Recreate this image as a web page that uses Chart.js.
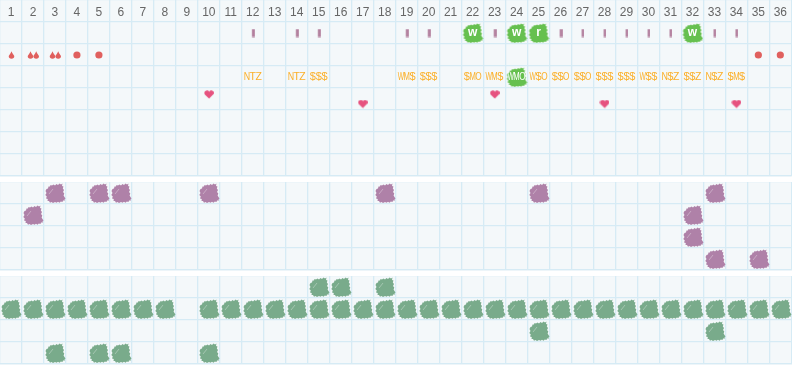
<!DOCTYPE html>
<html>
<head>
<meta charset="utf-8">
<style>
  html, body { margin: 0; padding: 0; background: #fff; overflow: hidden; }
  canvas { position: absolute; left: 0; background: #f4f8fa; }
  #wrap { position: relative; width: 792px; height: 365px; }
</style>
<script src="https://cdn.jsdelivr.net/npm/chart.js@4"></script>
</head>
<body>
<div id="wrap">
  <canvas id="topChart" style="top:0"></canvas>
  <canvas id="midChart" style="top:182px"></canvas>
  <canvas id="lowChart" style="top:276px"></canvas>
</div>
<script>
const days = [];
for (let d = 1; d <= 36; d++) days.push(String(d));

// top block
const barDays = [12, 14, 15, 19, 20, 23, 26, 27, 28, 29, 30, 31, 33, 34];
const wDays = [22, 24, 32];
const rDays = [25];
const dropDays = [1];
const doubleDropDays = [2, 3];
const dotDays = [4, 5, 35, 36];
const codeDays = [12, 14, 15, 19, 20, 22, 23, 24, 25, 26, 27, 28, 29, 30, 31, 32, 33, 34];
const codes = ["NTZ", "NTZ", "$$$", "WM$", "$$$", "$MO", "WM$", "WMO", "W$O", "$$O", "$$O", "$$$", "$$$", "W$$", "N$Z", "$$Z", "N$Z", "$M$"];
const codeHighlightDays = [24];
const heartDays = [10, 17, 23, 28, 34];
const heartLevels = [4.3, 4.73, 4.3, 4.73, 4.73];

// middle block
const purpleRow1 = [3, 5, 6, 10, 18, 25, 33];
const purpleRow2 = [2, 32];
const purpleRow3 = [32];
const purpleRow4 = [33, 35];

// bottom block
const greenRow1 = [15, 16, 18];
const greenRow2 = [1, 2, 3, 4, 5, 6, 7, 8, 10, 11, 12, 13, 14, 15, 16, 17, 18, 19, 20, 21, 22, 23, 24, 25, 26, 27, 28, 29, 30, 31, 32, 33, 34, 35, 36];
const greenRow3 = [25, 33];
const greenRow4 = [3, 5, 6, 10];

const gridColor = "#d6ebf5";
const orange = "#fbb02a";
const fontName = '"Liberation Sans", Arial, sans-serif';

function pts(list, row) {
  return list.map((d) => ({ x: String(d), y: row }));
}

function glyph(w, h, paint) {
  const c = document.createElement("canvas");
  c.width = w;
  c.height = h;
  paint(c.getContext("2d"));
  return c;
}

// the scribbled square behind checked cells
const blobOutline = [
  [2.5, 7], [4, 6.5], [4.5, 4.5], [6, 4.5], [6.5, 3], [8, 3.5], [9.5, 2.5], [11, 3.5], [12.5, 2], [14, 3], [15.5, 1.5],
  [17, 2.5], [18.5, 1.5], [18, 4], [19.5, 4.5], [18.8, 6.5], [20, 8], [19, 10], [20.3, 11.5], [19.6, 13.5], [20.5, 15],
  [21.5, 16.5], [20.5, 17.5], [21, 18.5], [19, 18.5], [18.5, 20], [16.8, 19.5], [15.5, 20.8], [14, 19.8], [12.5, 20.8],
  [11, 20], [9, 21], [7.5, 20], [6, 20.8], [5, 19], [3.5, 19], [3.8, 17], [2, 16.5], [2.8, 14.5], [1.3, 13], [2.5, 11], [1.5, 9]
];

function blob(color, shine) {
  return glyph(22, 22, (ctx) => {
    ctx.fillStyle = color;
    ctx.beginPath();
    blobOutline.forEach((p, i) => (i ? ctx.lineTo(p[0], p[1]) : ctx.moveTo(p[0], p[1])));
    ctx.closePath();
    ctx.fill();
    if (shine) {
      ctx.strokeStyle = "rgba(255,255,255,.4)";
      ctx.lineWidth = 0.8;
      ctx.beginPath();
      ctx.moveTo(5, 12);
      ctx.lineTo(9, 7);
      ctx.stroke();
    }
  });
}

function paintDrop(ctx, x) {
  ctx.fillStyle = "#e0605e";
  ctx.beginPath();
  ctx.moveTo(x, 0.2);
  ctx.quadraticCurveTo(x + 0.6, 2.2, x + 2.8, 4.9);
  ctx.arc(x, 5, 2.8, 0, Math.PI);
  ctx.quadraticCurveTo(x - 0.6, 2.2, x, 0.2);
  ctx.fill();
}

const dropImg = glyph(8, 8, (ctx) => paintDrop(ctx, 4.5));
const doubleDropImg = glyph(14, 8, (ctx) => { paintDrop(ctx, 4.5); paintDrop(ctx, 10.2); });
const barImg = glyph(4, 9, (ctx) => {
  ctx.fillStyle = "#b07a9a";
  ctx.fillRect(1.2, 0.5, 2.6, 8);
});
const heartImg = glyph(10, 9, (ctx) => {
  ctx.fillStyle = "#e6527f";
  ctx.beginPath();
  ctx.moveTo(5.2, 8.6);
  ctx.lineTo(1, 4.6);
  ctx.arc(3, 2.9, 2.5, Math.PI * 0.85, Math.PI * 1.9);
  ctx.arc(7.4, 2.9, 2.5, Math.PI * 1.1, Math.PI * 2.15);
  ctx.closePath();
  ctx.fill();
});
const brightBlob = blob("#66c04f", false);
const purpleBlob = blob("#af81a8", true);
const greenBlob = blob("#79ab8b", true);

// writes the letters of a dataset (dataset.letters) on its points
const letterPlugin = {
  id: "letters",
  afterDatasetsDraw(chart) {
    const ctx = chart.ctx;
    chart.data.datasets.forEach((ds, i) => {
      if (!ds.letters) return;
      const meta = chart.getDatasetMeta(i);
      ctx.save();
      ctx.textAlign = "center";
      ctx.textBaseline = "middle";
      ctx.font = ds.letterFont;
      meta.data.forEach((pt, n) => {
        const word = ds.letters[n];
        const day = Number(ds.data[n].x);
        ctx.fillStyle = ds.letterColor;
        if (ds.highlight && ds.highlight.includes(day)) ctx.fillStyle = "#fff";
        for (let k = 0; k < word.length; k++) {
          const dx = (k - (word.length - 1) / 2) * ds.letterGap;
          ctx.fillText(word[k], pt.x + dx, pt.y, ds.letterWidth);
        }
      });
      ctx.restore();
    });
  },
};

function scatter(list, row, img, extra) {
  return Object.assign({ data: pts(list, row), pointStyle: img, pointRadius: 5, showLine: false }, extra);
}

function makeChart(id, height, rows, datasets, showDays) {
  const canvas = document.getElementById(id);
  canvas.width = 792;
  canvas.height = height;
  canvas.style.width = "792px";
  canvas.style.height = height + "px";
  return new Chart(canvas, {
    type: "scatter",
    data: { labels: days, datasets: datasets },
    plugins: [letterPlugin],
    options: {
      responsive: false,
      animation: false,
      events: [],
      layout: { autoPadding: false, padding: { top: 0, left: 0, right: 0, bottom: 1 } },
      plugins: { legend: { display: false }, tooltip: { enabled: false } },
      scales: {
        x: {
          type: "category",
          position: "top",
          offset: true,
          grid: { offset: true, color: gridColor, lineWidth: 1.3, drawTicks: false },
          border: { display: false },
          afterFit: (scale) => { scale.height = 0; },
          ticks: {
            display: showDays,
            autoSkip: false,
            maxRotation: 0,
            mirror: true,
            padding: 5,
            color: "#666",
            font: { family: fontName, size: 12 },
          },
        },
        y: {
          type: "linear",
          reverse: true,
          min: 0,
          max: rows,
          grid: { color: gridColor, lineWidth: 1.3, drawTicks: false },
          border: { display: false },
          afterFit: (scale) => { scale.width = 0; },
          ticks: { display: false, stepSize: 1 },
        },
      },
    },
  });
}

makeChart("topChart", 177, 8, [
  scatter(barDays, 1.5, barImg),
  scatter(wDays, 1.5, brightBlob, { letters: wDays.map(() => "w"), letterColor: "#fff", letterFont: "bold 12px " + fontName, letterGap: 0, letterWidth: 12 }),
  scatter(rDays, 1.5, brightBlob, { letters: rDays.map(() => "r"), letterColor: "#fff", letterFont: "bold 12px " + fontName, letterGap: 0, letterWidth: 12 }),
  scatter(dropDays, 2.5, dropImg),
  scatter(doubleDropDays, 2.5, doubleDropImg),
  { data: pts(dotDays, 2.5), pointStyle: "circle", pointRadius: 3.6, backgroundColor: "#e0605e", borderWidth: 0, showLine: false },
  scatter(codeHighlightDays, 3.5, brightBlob),
  scatter(codeDays, 3.5, barImg, {
    pointRadius: 0,
    letters: codes,
    letterColor: orange,
    highlight: codeHighlightDays,
    letterFont: "11px " + fontName,
    letterGap: 5.8,
    letterWidth: 6.4,
  }),
  { data: heartDays.map((d, i) => ({ x: String(d), y: heartLevels[i] })), pointStyle: heartImg, pointRadius: 5, showLine: false },
], true);

makeChart("midChart", 89, 4, [
  scatter(purpleRow1, 0.5, purpleBlob),
  scatter(purpleRow2, 1.5, purpleBlob),
  scatter(purpleRow3, 2.5, purpleBlob),
  scatter(purpleRow4, 3.5, purpleBlob),
], false);

makeChart("lowChart", 89, 4, [
  scatter(greenRow1, 0.5, greenBlob),
  scatter(greenRow2, 1.5, greenBlob),
  scatter(greenRow3, 2.5, greenBlob),
  scatter(greenRow4, 3.5, greenBlob),
], false);
</script>
</body>
</html>
